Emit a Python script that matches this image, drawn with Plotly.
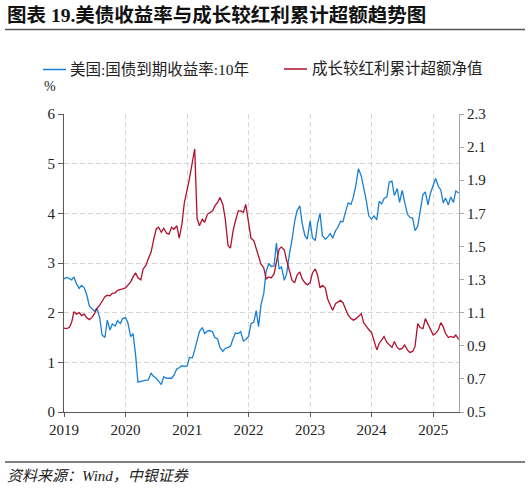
import plotly.graph_objects as go
import pandas as pd

# semi-monthly observation dates (1st and 15th), Jan 2019 - Jun 2025
dates = pd.date_range('2019-01-01', '2025-06-01', freq='SMS')

# 美国:国债到期收益率:10年 (%, left axis)
us10y = [
    # 2019
    2.68, 2.71, 2.69, 2.66, 2.72, 2.59, 2.49, 2.55, 2.50, 2.37, 2.13, 2.09,
    2.03, 2.09, 1.90, 1.55, 1.50, 1.85, 1.65, 1.77, 1.73, 1.84, 1.78, 1.88,
    # 2020
    1.90, 1.80, 1.52, 1.58, 1.15, 0.60, 0.62, 0.63, 0.64, 0.64, 0.78, 0.72,
    0.68, 0.62, 0.55, 0.71, 0.68, 0.68, 0.68, 0.74, 0.87, 0.89, 0.93, 0.92,
    # 2021
    0.93, 1.10, 1.09, 1.25, 1.45, 1.62, 1.70, 1.58, 1.63, 1.64, 1.61, 1.50,
    1.47, 1.30, 1.22, 1.28, 1.30, 1.32, 1.48, 1.59, 1.58, 1.62, 1.43, 1.46,
    # 2022
    1.52, 1.78, 1.81, 2.04, 1.72, 2.15, 2.39, 2.83, 2.99, 2.93, 2.94, 3.40,
    2.88, 2.92, 2.65, 2.79, 3.20, 3.45, 3.83, 4.05, 4.15, 3.80, 3.55, 3.48,
    # 2023
    3.85, 3.51, 3.45, 3.81, 4.00, 3.55, 3.48, 3.52, 3.59, 3.50, 3.65, 3.72,
    3.84, 3.83, 4.05, 4.21, 4.18, 4.33, 4.59, 4.90, 4.75, 4.53, 4.25, 3.95,
    # 2024
    3.88, 3.95, 3.87, 4.24, 4.19, 4.30, 4.33, 4.63, 4.65, 4.36, 4.50, 4.22,
    4.46, 4.23, 3.98, 3.92, 3.90, 3.65, 3.74, 4.03, 4.38, 4.43, 4.17, 4.40,
    # 2025
    4.57, 4.70, 4.54, 4.47, 4.21, 4.31, 4.17, 4.33, 4.22, 4.45, 4.41,
]

# 成长较红利累计超额净值 (right axis)
growth_excess = [
    # 2019
    1.007, 1.004, 1.010, 1.040, 1.106, 1.091, 1.100, 1.082, 1.091, 1.070, 1.058, 1.070,
    1.094, 1.124, 1.145, 1.172, 1.196, 1.205, 1.202, 1.217, 1.220, 1.235, 1.238, 1.244,
    # 2020
    1.250, 1.268, 1.286, 1.316, 1.340, 1.310, 1.298, 1.364, 1.385, 1.424, 1.466, 1.535,
    1.604, 1.616, 1.586, 1.610, 1.580, 1.574, 1.616, 1.604, 1.625, 1.550, 1.634, 1.760,
    # 2021
    1.835, 1.910, 2.010, 2.090, 1.670, 1.625, 1.664, 1.646, 1.694, 1.706, 1.715, 1.745,
    1.766, 1.796, 1.754, 1.670, 1.505, 1.490, 1.595, 1.655, 1.715, 1.715, 1.706, 1.754,
    # 2022
    1.655, 1.550, 1.535, 1.484, 1.436, 1.394, 1.370, 1.304, 1.316, 1.310, 1.334, 1.415,
    1.484, 1.496, 1.478, 1.415, 1.340, 1.298, 1.280, 1.325, 1.346, 1.304, 1.280, 1.268,
    # 2023
    1.280, 1.340, 1.364, 1.325, 1.250, 1.265, 1.250, 1.184, 1.145, 1.115, 1.154, 1.166,
    1.175, 1.160, 1.124, 1.085, 1.064, 1.055, 1.064, 1.076, 1.094, 1.040, 1.016, 0.998,
    # 2024
    0.980, 0.926, 0.875, 0.914, 0.935, 0.956, 0.920, 0.905, 0.890, 0.926, 0.890, 0.878,
    0.884, 0.905, 0.875, 0.860, 0.866, 0.896, 1.034, 1.010, 1.004, 1.064, 1.028, 1.004,
    # 2025
    0.965, 0.974, 0.998, 1.040, 1.016, 0.974, 0.950, 0.956, 0.950, 0.965, 0.938,
]

name_us = '美国:国债到期收益率:10年'
name_growth = '成长较红利累计超额净值'
title_text = '图表 19.美债收益率与成长较红利累计超额趋势图'
source_text = '资料来源：Wind，中银证券'

blue = '#1a7fd2'
red = '#b0102e'
grid_color = '#d6d6d6'
axis_color = '#595959'
font_family = 'Liberation Serif, Noto Sans CJK SC'

W, H = 529, 488
left, right, top, bottom = 64, 70, 114, 76


# pixel helpers for the decorations around the plot area
def px_x(px):
    return (px - left) / (W - left - right)


def px_y(py):
    return (H - bottom - py) / (H - top - bottom)


fig = go.Figure()
fig.add_trace(go.Scatter(x=dates, y=us10y, mode='lines', name=name_us,
                         line=dict(color=blue, width=1.3), showlegend=False))
fig.add_trace(go.Scatter(x=dates, y=growth_excess, mode='lines', name=name_growth,
                         yaxis='y2', line=dict(color=red, width=1.3), showlegend=False))

fig.update_layout(
    width=W, height=H,
    margin=dict(l=left, r=right, t=top, b=bottom),
    paper_bgcolor='white',
    plot_bgcolor='white',
    font=dict(family=font_family, size=15, color='#222222'),
    xaxis=dict(
        type='date',
        range=[dates[0], pd.Timestamp('2025-06-03')],
        tick0='2019-01-01', dtick='M12', tickformat='%Y',
        showgrid=True, gridcolor=grid_color, griddash='5px,3px', gridwidth=1,
        showline=True, linecolor=axis_color, linewidth=1,
        ticks='outside', ticklen=4, tickcolor=axis_color,
        zeroline=False,
    ),
    yaxis=dict(
        range=[0, 6], dtick=1,
        showgrid=True, gridcolor=grid_color, griddash='5px,3px', gridwidth=1,
        showline=True, linecolor=axis_color, linewidth=1,
        ticks='outside', ticklen=5, tickcolor=axis_color,
        zeroline=False,
    ),
    yaxis2=dict(
        range=[0.5, 2.3], tick0=0.5, dtick=0.2, tickformat='.1f',
        overlaying='y', side='right',
        showgrid=False,
        showline=True, linecolor='#a6a6a6', linewidth=1,
        ticks='outside', ticklen=4, tickcolor='#a6a6a6',
        zeroline=False,
    ),
)

# title and rule
fig.add_annotation(text='<b>' + title_text + '</b>', xref='paper', yref='paper',
                   x=px_x(5), y=px_y(15), xanchor='left', yanchor='middle',
                   showarrow=False, font=dict(size=19.5, color='#111111'))
fig.add_shape(type='line', xref='paper', yref='paper',
              x0=px_x(5), x1=px_x(525), y0=px_y(29.5), y1=px_y(29.5),
              line=dict(color='#555555', width=1.5))

# legend, drawn by hand
fig.add_shape(type='line', xref='paper', yref='paper',
              x0=px_x(43), x1=px_x(66), y0=px_y(69.5), y1=px_y(69.5),
              line=dict(color=blue, width=1.5))
fig.add_annotation(text=name_us, xref='paper', yref='paper',
                   x=px_x(68), y=px_y(69.5), xanchor='left', yanchor='middle',
                   showarrow=False, font=dict(size=15.5))
fig.add_shape(type='line', xref='paper', yref='paper',
              x0=px_x(284), x1=px_x(307), y0=px_y(69), y1=px_y(69),
              line=dict(color=red, width=1.5))
fig.add_annotation(text=name_growth, xref='paper', yref='paper',
                   x=px_x(310), y=px_y(69), xanchor='left', yanchor='middle',
                   showarrow=False, font=dict(size=15.5))

# unit label
fig.add_annotation(text='%', xref='paper', yref='paper',
                   x=px_x(50), y=px_y(87), xanchor='center', yanchor='middle',
                   showarrow=False, font=dict(size=14))

# source footer
fig.add_shape(type='line', xref='paper', yref='paper',
              x0=px_x(5), x1=px_x(525), y0=px_y(462), y1=px_y(462),
              line=dict(color='#555555', width=1.5))
fig.add_annotation(text='<i>' + source_text + '</i>', xref='paper', yref='paper',
                   x=px_x(5), y=px_y(476), xanchor='left', yanchor='middle',
                   showarrow=False, font=dict(size=15))

# drop the default page margin so the figure sits at the window's corner
fig.write_html('out.html', config={'displayModeBar': False},
               post_script="document.body.style.margin='0px';")
